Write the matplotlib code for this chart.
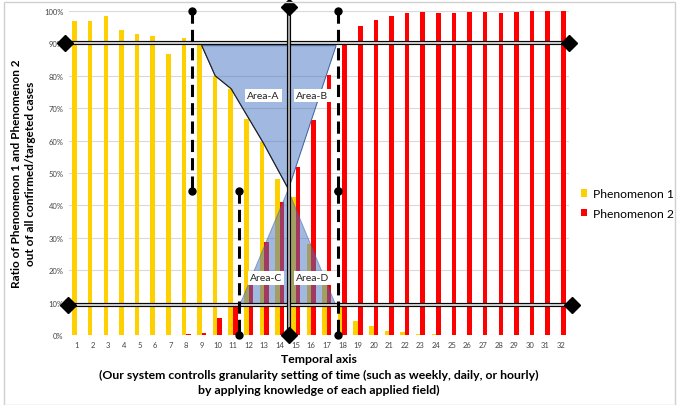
import matplotlib
matplotlib.use("Agg")
from matplotlib import pyplot as plt
from matplotlib.patches import Polygon, Rectangle

plt.rcParams['font.family'] = ['Lato', 'DejaVu Sans']

# categories on the temporal axis
periods = list(range(1, 33))

# ratio of phenomenon 1 (%)
phen1 = [97, 97, 98.5, 94, 93, 92.4, 86.7, 91.7, 90.3, 80,
         76, 66.7, 59.5, 48, 42.5, 28, 16.4, 8.8, 4.4, 2.9,
         1.3, 0.8, 0.4, 0.2, 0.1, 0.1, 0, 0.1, 0, 0, 0, 0]

# ratio of phenomenon 2 (%)
phen2 = [0, 0, 0, 0, 0, 0, 0, 0.2, 0.7, 5.2,
         9.5, 19.6, 28.6, 41, 51.8, 66.4, 80.2, 90.5, 95.5, 97.3,
         98.6, 99.3, 99.6, 99.3, 99.5, 99.8, 99.8, 99.4, 99.6, 99.9, 99.9, 100]

ytick_vals = [0, 10, 20, 30, 40, 50, 60, 70, 80, 90, 100]

# thresholds and guide positions
upper_level = 90
lower_level = 9.3
center_x = 14.57
left_top_x = 8.38
left_bottom_x = 11.4
right_x = 17.7
cross_y = 44.5

# polygons (Area-A/B on top, Area-C/D on bottom)
upper_poly = [(9.0, 89.3), (9.86, 80), (10.88, 76), (12.95, 59.2),
              (14.55, 45), (17.6, 89.3)]
lower_poly = [(11.46, 9.6), (14.52, 44.8), (17.55, 9.6)]

area_labels = ["Area-A", "Area-B", "Area-C", "Area-D"]
area_pos = [(12.94, 74), (16.08, 74), (13.1, 17.6), (16.08, 17.6)]

fig = plt.figure(figsize=(6.78, 4.06), dpi=100)
ax = fig.add_axes([0.1018, 0.1724, 0.7372, 0.798])

w = 0.29
ax.bar([p - w / 2 for p in periods], phen1, width=w, color="#FFD000",
       label="Phenomenon 1", zorder=2)
ax.bar([p + w / 2 for p in periods], phen2, width=w, color="#FF0000",
       label="Phenomenon 2", zorder=2)

ax.add_patch(Polygon(upper_poly, closed=True, facecolor="#4472C4", alpha=0.5,
                     edgecolor="none", zorder=3))
ax.add_patch(Polygon(upper_poly, closed=True, facecolor="none",
                     edgecolor="#3A5F9E", linewidth=0.7, zorder=3))
# dark left edge of Area-A
ax.plot([p[0] for p in upper_poly[:5]], [p[1] for p in upper_poly[:5]],
        color="#222222", linewidth=0.8, zorder=3)
ax.add_patch(Polygon(lower_poly, closed=True, facecolor="#4472C4", alpha=0.5,
                     edgecolor="#3A5F9E", linewidth=0.7, zorder=3))

for txt, (x, y) in zip(area_labels, area_pos):
    ax.text(x, y, txt, ha="center", va="center", fontsize=7.5, color="#222222",
            bbox=dict(boxstyle="square,pad=0.2", facecolor="white",
                      edgecolor="none"), zorder=6)

# double horizontal lines
for y, x0, x1 in [(upper_level, 0.24, 32.5), (lower_level, 0.44, 32.7)]:
    ax.plot([x0, x1], [y, y], color="black", linewidth=3.0,
            solid_capstyle="butt", zorder=5, clip_on=False)
    ax.plot([x0, x1], [y, y], color="#C8C8C8", linewidth=1.5,
            solid_capstyle="butt", zorder=5, clip_on=False)
    ax.plot([x0, x1], [y, y], linestyle="none", marker="D", markersize=8.5,
            color="black", zorder=7, clip_on=False)

# double vertical centre line
ax.plot([center_x, center_x], [0, 101.2], color="black", linewidth=3.0,
        solid_capstyle="butt", zorder=5, clip_on=False)
ax.plot([center_x, center_x], [0, 101.2], color="#A0A0A0", linewidth=1.5,
        solid_capstyle="butt", zorder=5, clip_on=False)
ax.plot([center_x, center_x], [0, 101.2], linestyle="none", marker="D",
        markersize=8, color="black", zorder=7, clip_on=False)

# dashed guides
for x, y0, y1 in [(left_top_x, 100, cross_y), (left_bottom_x, cross_y, 0),
                  (right_x, 100, cross_y), (right_x, cross_y, 0)]:
    ax.plot([x, x], [y0, y1], color="black", linewidth=2.2,
            dashes=(4, 2), zorder=6, clip_on=False)
    ax.plot([x, x], [y0, y1], linestyle="none", marker="o", markersize=5,
            color="black", zorder=7, clip_on=False)

ax.set_xlim(0.5, 32.5)
ax.set_ylim(0, 100)
ax.set_xticks(periods)
ax.set_xticklabels([str(p) for p in periods], fontsize=5.5, color="#444444")
ax.set_yticks(ytick_vals)
ax.set_yticklabels([f"{v}%" for v in ytick_vals], fontsize=5.5, color="#444444")
ax.tick_params(length=0, pad=4)
ax.grid(axis="y", color="#D9D9D9", linewidth=0.8, zorder=0)
ax.set_axisbelow(True)
for s in ax.spines.values():
    s.set_visible(False)

ax.set_ylabel("Ratio of Phenomenon 1 and Phenomenon 2\nout of all confirmed/targeted cases",
              fontsize=8.5, fontweight="bold", linespacing=1.3, labelpad=6)
ax.set_xlabel("Temporal axis\n(Our system controlls granularity setting of time (such as weekly, daily, or hourly)\nby applying knowledge of each applied field)",
              fontsize=8.8, fontweight="bold", linespacing=1.5, labelpad=4)

fig.legend(loc="upper left", bbox_to_anchor=(0.853, 0.54), frameon=False,
           fontsize=8.7, handlelength=0.55, handleheight=0.55, handletextpad=0.45,
           labelspacing=0.7, borderaxespad=0, borderpad=0.2)

fig.add_artist(Rectangle((0.006, 0.0), 0.99, 0.992, transform=fig.transFigure,
                         fill=False, edgecolor="#D0D0D0", linewidth=1.0))

fig.savefig("out.png", dpi=100)
